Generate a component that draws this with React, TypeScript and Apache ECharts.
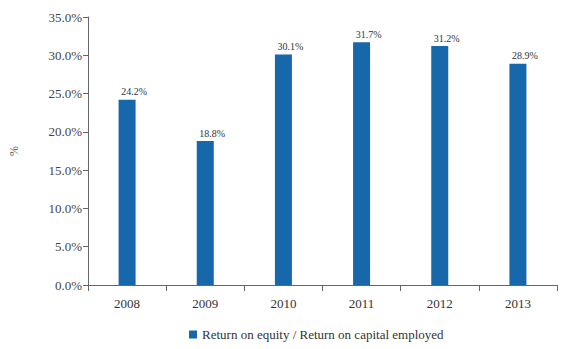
import React, { useEffect, useRef } from "react";
import * as echarts from "echarts";

const categories = ["2008", "2009", "2010", "2011", "2012", "2013"];
const values = [24.2, 18.8, 30.1, 31.7, 31.2, 28.9];
const seriesName = "Return on equity / Return on capital employed";
const yTicks = { min: 0, max: 35, interval: 5 };

const FONT = "Liberation Serif, serif";

export default function App() {
  const ref = useRef<HTMLDivElement>(null);
  useEffect(() => {
    if (!ref.current) return;
    const chart = echarts.init(ref.current, undefined, { renderer: "svg" });
    chart.setOption({
      animation: false,
      backgroundColor: "#ffffff",
      textStyle: { fontFamily: FONT },
      grid: { left: 88, right: 13, top: 17, bottom: 64, containLabel: false },
      legend: {
        bottom: 3,
        left: 184,
        itemWidth: 8,
        itemHeight: 8,
        itemGap: 6,
        icon: "rect",
        textStyle: { fontFamily: FONT, fontSize: 13, color: "#333" },
        data: [seriesName],
      },
      xAxis: {
        type: "category",
        data: categories,
        axisLine: { lineStyle: { color: "#666", width: 1 } },
        axisTick: { show: true, alignWithLabel: false, length: 6, lineStyle: { color: "#666" } },
        axisLabel: { fontFamily: FONT, fontSize: 13, color: "#333", margin: 12 },
      },
      yAxis: {
        type: "value",
        min: yTicks.min,
        max: yTicks.max,
        interval: yTicks.interval,
        name: "%",
        nameLocation: "middle",
        nameGap: 68,
        nameRotate: 90,
        nameTextStyle: { fontFamily: FONT, fontSize: 12, color: "#555" },
        axisLine: { show: true, lineStyle: { color: "#666", width: 1 } },
        axisTick: { show: true, length: 5, lineStyle: { color: "#666" } },
        splitLine: { show: false },
        axisLabel: {
          fontFamily: FONT,
          fontSize: 13,
          color: "#444",
          margin: 6,
          formatter: (v: number) => v.toFixed(1) + "%",
        },
      },
      series: [
        {
          name: seriesName,
          type: "bar",
          data: values,
          barWidth: 17,
          itemStyle: { color: "#1767ab" },
          label: {
            show: true,
            position: "top",
            distance: 3,
            offset: [7, 0],
            fontFamily: FONT,
            fontSize: 10,
            color: "#333",
            formatter: (p: any) => p.value.toFixed(1) + "%",
          },
        },
      ],
    });
    return () => chart.dispose();
  }, []);
  return <div ref={ref} style={{ width: 570, height: 349, position: "absolute", left: 0, top: 0 }} />;
}
